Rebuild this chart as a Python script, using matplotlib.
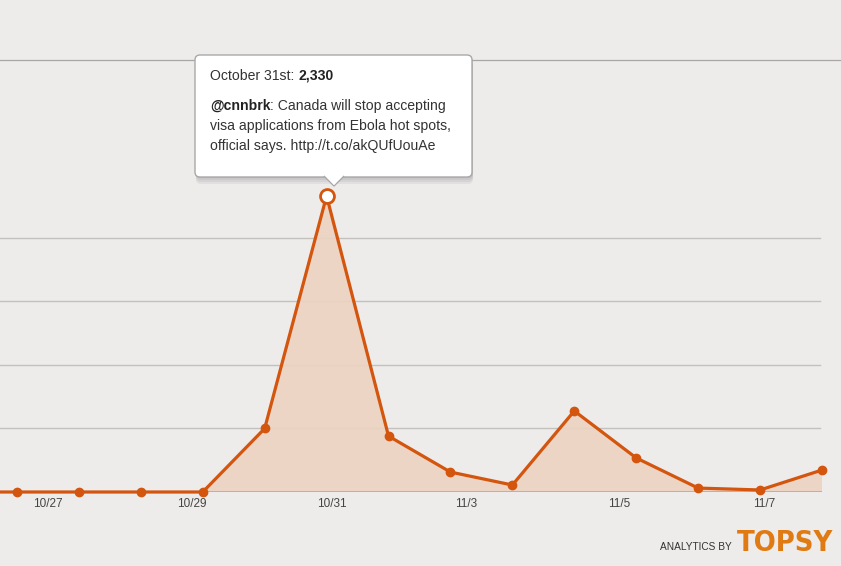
import matplotlib
matplotlib.use('Agg')
from matplotlib import pyplot as plt
from matplotlib.patches import FancyBboxPatch, Polygon
from matplotlib.transforms import IdentityTransform
from matplotlib.lines import Line2D

# Daily mentions, 10/25 .. 11/8 (first point sits off the left edge)
days = list(range(15))
mentions = [0, 0, 0, 0, 0, 500, 2330, 440, 157, 55, 638, 268, 31, 16, 173]
tick_pos = [1.5, 3.82, 6.08, 8.26, 10.73, 13.06]
tick_labels = ['10/27', '10/29', '10/31', '11/3', '11/5', '11/7']
peak_idx = 6

W, H = 841, 566
bg = '#eeeceb'
orange = '#d4550e'

plt.rcParams['font.family'] = ['Liberation Sans', 'DejaVu Sans']

fig = plt.figure(figsize=(W / 100, H / 100), dpi=100, facecolor=bg)
ax = fig.add_axes([0, (H - 492) / H, 822 / W, (492 - 60) / H], facecolor=bg)

ax.fill_between(days, mentions, 0, color='#ecd3c1', alpha=0.9, zorder=2, lw=0)
ax.plot(days, mentions, color=orange, lw=2.3, zorder=4,
        solid_joinstyle='round', clip_on=False)
ax.plot(days[1:], mentions[1:], 'o', color=orange, ms=6, zorder=5,
        clip_on=False)
ax.plot(days[peak_idx], mentions[peak_idx], 'o', ms=10, mfc='white',
        mec=orange, mew=2, zorder=6, clip_on=False)

for g in [500, 1000, 1500, 2000]:
    ax.axhline(g, color='#c4c0be', lw=1, zorder=1, xmax=820 / 822)
ax.axhline(0, color='#aaa7a5', lw=1.1, zorder=3)

ax.set_xlim(1 - 17 / 62, 14)
ax.set_ylim(0, 3400)
ax.set_yticks([])
ax.set_xticks(tick_pos)
ax.set_xticklabels(tick_labels)
ax.tick_params(axis='x', length=0, pad=4, labelsize=8.5, labelcolor='#444444')
for s in ax.spines.values():
    s.set_visible(False)

# top frame line
fig.add_artist(Line2D([0, 1], [(H - 60) / H] * 2, color='#a8a5a3', lw=0.9,
                      transform=fig.transFigure))

# tooltip (pixel coordinates, origin bottom-left)
px = IdentityTransform()
bx0, bx1, by0, by1 = 195, 472, H - 177, H - 55
for k in range(4):
    fig.add_artist(FancyBboxPatch((bx0 + 1, by0 - 1 - 2 * k), bx1 - bx0,
                                  by1 - by0,
                                  boxstyle='round,pad=0,rounding_size=5',
                                  transform=px, fc='#000000', ec='none',
                                  alpha=0.05, zorder=8))
fig.add_artist(FancyBboxPatch((bx0, by0), bx1 - bx0, by1 - by0,
                              boxstyle='round,pad=0,rounding_size=5',
                              transform=px, fc='white', ec='#a8a8a8', lw=1,
                              zorder=9))
fig.add_artist(Polygon([(324, by0 + 1), (334, H - 186), (344, by0 + 1)],
                       closed=False, transform=px, fc='white', ec='#a8a8a8',
                       lw=1, zorder=10))
fig.add_artist(Polygon([(325, by0 + 1.5), (334, H - 185), (343, by0 + 1.5)],
                       closed=True, transform=px, fc='white', ec='none',
                       zorder=11))

tsize = 10.1
tcol = '#333333'
dark = '#222222'
renderer = fig.canvas.get_renderer()


def tip_text(x, y, first, rest, first_bold):
    # two pieces on one baseline, second placed right after the first
    t = fig.text(x / W, (H - y) / H, first, fontsize=tsize, zorder=12,
                 va='baseline', color=dark if first_bold else tcol,
                 fontweight='bold' if first_bold else 'normal')
    w = t.get_window_extent(renderer).width
    fig.text((x + w) / W, (H - y) / H, rest, fontsize=tsize, zorder=12,
             va='baseline', color=tcol if first_bold else dark,
             fontweight='normal' if first_bold else 'bold')


tip_text(210, 80, 'October 31st: ', '{:,}'.format(mentions[peak_idx]), False)
tip_text(210, 110, '@cnnbrk', ': Canada will stop accepting', True)
fig.text(210 / W, (H - 130) / H, 'visa applications from Ebola hot spots,',
         fontsize=tsize, color=tcol, zorder=12, va='baseline')
fig.text(210 / W, (H - 150) / H, 'official says. http://t.co/akQUfUouAe',
         fontsize=tsize, color=tcol, zorder=12, va='baseline')

# branding
fig.text(732 / W, (H - 550) / H, 'ANALYTICS BY', fontsize=7.3,
         color='#333333', ha='right', va='baseline')
fig.text(833 / W, (H - 551) / H, 'TOPSY', fontsize=20.8, fontweight='bold',
         fontstretch='condensed', color='#e07a12', family='DejaVu Sans',
         ha='right', va='baseline')

fig.savefig('out.png', dpi=100, facecolor=bg)
